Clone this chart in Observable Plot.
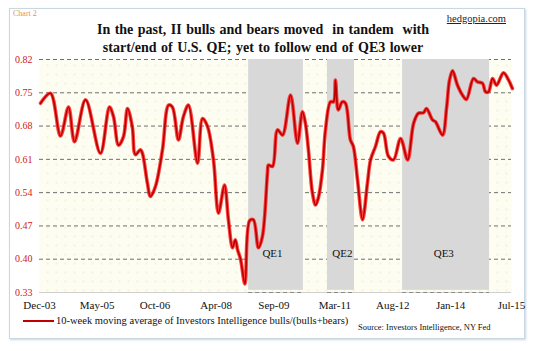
<!DOCTYPE html>
<html>
<head>
<meta charset="utf-8">
<script src="https://cdn.jsdelivr.net/npm/d3@7"></script>
<script src="https://cdn.jsdelivr.net/npm/@observablehq/plot@0.6"></script>
<style>
  html, body { margin: 0; padding: 0; background: #fff; }
  #wrap { position: relative; width: 535px; height: 351px; overflow: hidden; background: #fff; font-family: "Liberation Serif", "DejaVu Serif", serif; }
  #frame { position: absolute; left: 9px; top: 8px; width: 514px; height: 329px; border: 1px solid #c9d6e4; box-shadow: 1px 1px 2px rgba(150,170,200,0.5); background: #fff; }
  #chart { position: absolute; left: 0; top: 0; }
  .abs { position: absolute; white-space: nowrap; }
  #tag { left: 13px; top: 9px; font-size: 8px; color: #d9936a; }
  #site { right: 29px; top: 13px; font-size: 10.5px; color: #222; text-decoration: underline; }
  #title { left: 0; width: 526px; top: 21px; text-align: center; font-size: 14px; font-weight: bold; line-height: 18px; color: #111; word-spacing: 1px; }
  #legend { left: 23px; top: 315px; font-size: 10.5px; color: #111; }
  #legend .sw { display: inline-block; width: 31px; height: 2px; background: #c00000; vertical-align: middle; margin-right: 2px; position: relative; top: -1px; }
  #source { left: 358px; top: 322px; font-size: 8.5px; color: #111; }
</style>
</head>
<body>
<div id="wrap">
  <div id="frame"></div>
  <div id="chart"></div>
  <div class="abs" id="tag">Chart 2</div>
  <div class="abs" id="site">hedgopia.com</div>
  <div class="abs" id="title">In the past, II bulls and bears moved&nbsp; in tandem&nbsp; with<br>start/end of U.S. QE; yet to follow end of QE3 lower</div>
  <div class="abs" id="legend"><span class="sw"></span>10-week moving average of Investors Intelligence bulls/(bulls+bears)</div>
  <div class="abs" id="source">Source: Investors Intelligence, NY Fed</div>
</div>
<script>
// ---- data ----
const dates = [
  "2003-12-10","2004-03-08","2004-06-06","2004-08-17","2004-10-10","2005-01-17","2005-05-30",
  "2005-08-19","2005-09-24","2005-11-08","2005-12-23","2006-01-28","2006-03-12","2006-04-08",
  "2006-05-23","2006-06-10","2006-07-25","2006-08-21","2006-10-05","2006-12-07","2007-01-31",
  "2007-03-06","2007-04-29","2007-06-13","2007-07-28","2007-10-17","2007-12-01","2008-01-15",
  "2008-03-08","2008-04-22","2008-06-15","2008-07-20","2008-08-26","2008-09-20","2008-10-10",
  "2008-11-06","2008-12-15","2009-01-26","2009-03-01","2009-04-15","2009-05-21","2009-07-05",
  "2009-07-14","2009-08-19","2009-10-03","2009-11-17","2010-01-28","2010-03-31","2010-05-14",
  "2010-06-10","2010-07-07","2010-08-12","2010-09-09","2010-10-05","2010-11-10","2010-12-07",
  "2011-01-21","2011-02-17","2011-03-06","2011-03-24","2011-04-02","2011-05-07","2011-06-04",
  "2011-07-18","2011-08-14","2011-09-20","2011-11-04","2011-12-18","2012-01-15","2012-02-28",
  "2012-04-13","2012-05-10","2012-06-24","2012-08-08","2012-10-10","2012-12-12","2013-02-04",
  "2013-03-19","2013-05-03","2013-05-30","2013-07-23","2013-08-19","2013-10-21","2013-11-27",
  "2013-12-23","2014-01-19","2014-03-04","2014-04-18","2014-05-23","2014-07-25","2014-08-30",
  "2014-10-14","2014-11-10","2014-12-07","2015-01-12","2015-02-17","2015-04-20","2015-06-04",
  "2015-07-09"
];
const values = [
  0.728,0.749,0.659,0.720,0.647,0.735,0.623,
  0.720,0.700,0.640,0.658,0.717,0.678,0.620,
  0.630,0.623,0.560,0.532,0.553,0.630,0.724,
  0.720,0.651,0.700,0.724,0.602,0.696,0.679,
  0.609,0.497,0.556,0.483,0.424,0.441,0.420,
  0.400,0.348,0.481,0.483,0.424,0.448,0.581,
  0.598,0.595,0.672,0.661,0.745,0.644,0.710,
  0.686,0.630,0.539,0.514,0.530,0.588,0.672,
  0.731,0.731,0.777,0.720,0.714,0.731,0.728,
  0.651,0.637,0.567,0.483,0.560,0.609,0.637,
  0.668,0.665,0.616,0.609,0.654,0.609,0.686,
  0.707,0.708,0.717,0.693,0.689,0.661,0.720,
  0.777,0.796,0.766,0.745,0.736,0.780,0.773,
  0.770,0.752,0.752,0.780,0.766,0.792,0.777,
  0.759
];
const qeLabels = ["QE1", "QE2", "QE3"];
const qeStarts = ["2009-01-17", "2010-12-25", "2012-10-28"];
const qeEnds   = ["2010-05-23", "2011-08-24", "2014-12-16"];
const qeTextDates = ["2009-08-19", "2011-05-07", "2013-11-01"];
const qeTextValue = 0.412;
const yTicks = [0.33, 0.40, 0.47, 0.54, 0.61, 0.68, 0.75, 0.82];
const xTickDates = ["2003-12-01","2005-05-01","2006-10-01","2008-04-01","2009-09-01","2011-03-01","2012-08-01","2014-01-01","2015-07-01"];
const xTickLabels = ["Dec-03","May-05","Oct-06","Apr-08","Sep-09","Mar-11","Aug-12","Jan-14","Jul-15"];

// ---- build tables ----
const parse = d3.utcParse("%Y-%m-%d");
const series = dates.map((d, i) => ({date: parse(d), value: values[i]}));
const bands = qeLabels.map((q, i) => ({label: q, start: parse(qeStarts[i]), end: parse(qeEnds[i]), tdate: parse(qeTextDates[i])}));
const tickDates = xTickDates.map(parse);
const tickLabelMap = new Map(tickDates.map((d, i) => [+d, xTickLabels[i]]));

const chart = Plot.plot({
  width: 535,
  height: 351,
  marginLeft: 39,
  marginRight: 24,
  marginTop: 59,
  marginBottom: 59,
  style: {background: "transparent", fontFamily: "Liberation Serif, serif", fontSize: "10px", overflow: "visible"},
  x: {type: "utc", domain: [tickDates[0], tickDates[tickDates.length - 1]]},
  y: {domain: [0.33, 0.82]},
  marks: [
    Plot.frame({fill: "#fdfdf2", stroke: "none"}),
    Plot.ruleY(yTicks.slice(1), {stroke: "#6f6f6f", strokeWidth: 1, strokeDasharray: "4,3"}),
    Plot.rectY(bands, {x1: "start", x2: "end", y1: 0.3345, y2: 0.82, fill: "#d8d8d8"}),
    Plot.ruleY([0.33], {stroke: "#d0d0d0", strokeWidth: 1}),
    Plot.ruleY(bands, {x1: "start", x2: "end", y: 0.33, stroke: "#8a8a8a", strokeDasharray: "4,3"}),
    Plot.text(bands, {x: "tdate", y: qeTextValue, text: "label", fontSize: 11, fill: "#111"}),
    Plot.line(series, {x: "date", y: "value", stroke: "#ff2020", strokeWidth: 3.6, curve: "catmull-rom", strokeOpacity: 0.85}),
    Plot.line(series, {x: "date", y: "value", stroke: "#b80000", strokeWidth: 1.6, curve: "catmull-rom"}),
    Plot.axisY({ticks: yTicks, tickSize: 0, tickPadding: 7, tickFormat: d3.format(".2f"), fill: "#d02020", fontSize: 10, label: null}),
    Plot.axisX({ticks: tickDates, tickSize: 0, tickPadding: 9, tickFormat: d => tickLabelMap.get(+d), fill: "#111", fontSize: 11, label: null})
  ]
});

// faint dot texture over the plot background
const svg = d3.select(chart);
const defs = svg.insert("defs", ":first-child");
const pat = defs.append("pattern").attr("id", "dots").attr("patternUnits", "userSpaceOnUse").attr("width", 9).attr("height", 9);
pat.append("circle").attr("cx", 2).attr("cy", 2).attr("r", 0.7).attr("fill", "#e6dfa8");
const fr = svg.select("[aria-label=frame]");
fr.clone(true).attr("fill", "url(#dots)");

document.getElementById("chart").appendChild(chart);
</script>
</body>
</html>
